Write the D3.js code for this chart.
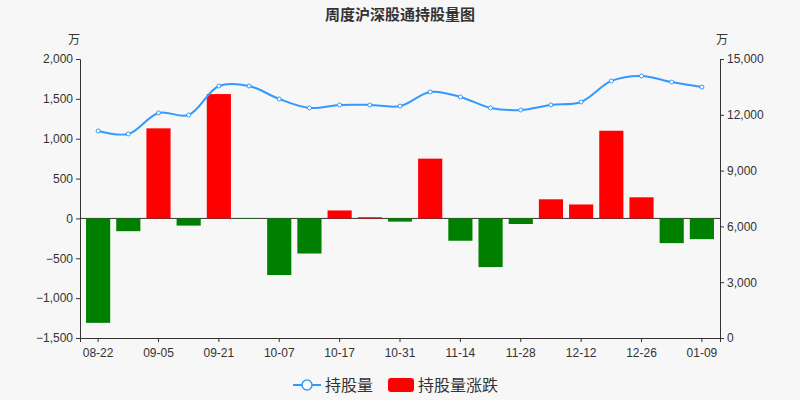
<!doctype html>
<html>
<head>
<meta charset="utf-8">
<script src="https://cdn.jsdelivr.net/npm/d3@7"></script>
<style>
  body { margin:0; background:#f7f7f7; }
  svg { font-family: "Noto Sans CJK SC", "Noto Sans", sans-serif; }
  .axis text { fill:#333; font-size:12px; }
  .axis path, .axis line { stroke:#333; }
</style>
</head>
<body>
<script>
var dates = ["08-22","08-29","09-05","09-12","09-21","09-28","10-07","10-14","10-17","10-24","10-31","11-07","11-14","11-21","11-28","12-05","12-12","12-19","12-26","01-03","01-09"];
var holdings = [11130,10970,12100,11990,13550,13550,12850,12370,12530,12530,12470,13230,12960,12370,12260,12530,12690,13820,14090,13760,13490];
var changes = [-1310,-160,1130,-90,1560,-5,-710,-440,100,15,-40,750,-280,-610,-70,240,175,1100,265,-310,-260];
var leftTicks = [-1500,-1000,-500,0,500,1000,1500,2000];
var rightTicks = [0,3000,6000,9000,12000,15000];

var W = 800, H = 400, m = {top:59, right:80, bottom:62, left:80};
var svg = d3.select("body").append("svg").attr("width", W).attr("height", H);

var x = d3.scaleBand().domain(dates).range([m.left, W - m.right]).padding(0.2);
var yL = d3.scaleLinear().domain([-1500, 2000]).range([H - m.bottom, m.top]);
var yR = d3.scaleLinear().domain([0, 15000]).range([H - m.bottom, m.top]);

svg.append("text").attr("x", W/2).attr("y", 20).attr("text-anchor","middle")
  .attr("font-size", 15).attr("font-weight","bold").attr("fill","#333").text("周度沪深股通持股量图");
svg.append("text").attr("x", m.left - 6).attr("y", 44).attr("text-anchor","middle").attr("font-size",12).attr("fill","#333").text("万");
svg.append("text").attr("x", W - m.right + 2).attr("y", 44).attr("text-anchor","middle").attr("font-size",12).attr("fill","#333").text("万");

svg.append("g").attr("class","axis").attr("transform", `translate(${m.left},0)`)
  .call(d3.axisLeft(yL).tickValues(leftTicks).tickFormat(d3.format(",")).tickSize(4));
svg.append("g").attr("class","axis").attr("transform", `translate(${W - m.right},0)`)
  .call(d3.axisRight(yR).tickValues(rightTicks).tickFormat(d3.format(",")).tickSize(4));
var xa = svg.append("g").attr("class","axis").attr("transform", `translate(0,${H - m.bottom})`)
  .call(d3.axisBottom(x).tickValues(dates.filter((d,i) => i % 2 == 0)).tickSize(4));
xa.selectAll("text").attr("dy","1em");

svg.append("line").attr("x1", m.left).attr("x2", W - m.right)
  .attr("y1", yL(0)).attr("y2", yL(0)).attr("stroke","#333");

svg.selectAll(".bar").data(changes).enter().append("rect")
  .attr("x", (d,i) => x(dates[i]))
  .attr("width", x.bandwidth())
  .attr("y", d => yL(Math.max(0, d)))
  .attr("height", d => Math.abs(yL(d) - yL(0)))
  .attr("fill", d => d >= 0 ? "#ff0000" : "#008000");

var line = d3.line().x((d,i) => x(dates[i]) + x.bandwidth()/2).y(d => yR(d)).curve(d3.curveCatmullRom);
svg.append("path").datum(holdings).attr("d", line).attr("fill","none").attr("stroke","#3399ff").attr("stroke-width",2);
svg.selectAll(".pt").data(holdings).enter().append("circle")
  .attr("cx", (d,i) => x(dates[i]) + x.bandwidth()/2).attr("cy", d => yR(d))
  .attr("r", 2).attr("fill","#fff").attr("stroke","#3399ff");

// legend
var lg = svg.append("g").attr("transform","translate(293,385)");
lg.append("line").attr("x1",0).attr("x2",28).attr("stroke","#3399ff").attr("stroke-width",2);
lg.append("circle").attr("cx",14).attr("r",5).attr("fill","#fff").attr("stroke","#3399ff").attr("stroke-width",1.5);
lg.append("text").attr("x",32).attr("y",6).attr("font-size",16).attr("fill","#333").text("持股量");
lg.append("rect").attr("x",95).attr("y",-7).attr("width",26).attr("height",14).attr("rx",3).attr("fill","#ff0000");
lg.append("text").attr("x",125).attr("y",6).attr("font-size",16).attr("fill","#333").text("持股量涨跌");
</script>
</body>
</html>
